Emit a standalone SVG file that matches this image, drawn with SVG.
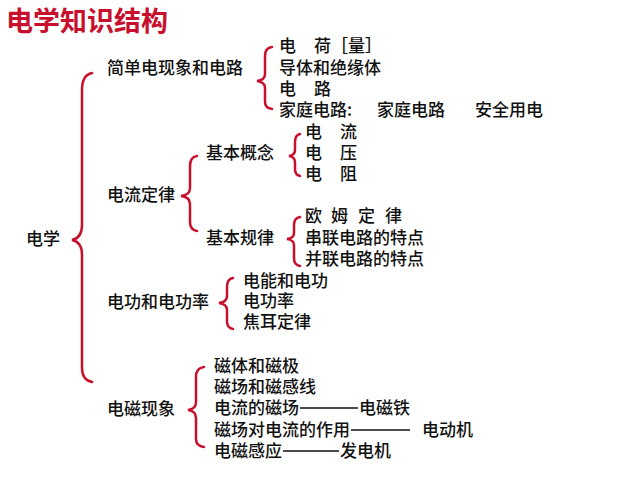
<svg xmlns="http://www.w3.org/2000/svg" width="640" height="480" viewBox="0 0 640 480">
<style>
text{font-family:"Noto Sans CJK SC","Noto Sans CJK JP",sans-serif;font-size:17px;fill:#111;font-weight:500}
.t{font-size:27px;fill:#c8102e;font-weight:700}
.b{fill:none;stroke:#c8102e;stroke-width:2.5;stroke-linecap:round}
.d{stroke:#111;stroke-width:1.5}
</style>
<rect width="640" height="480" fill="#fff"/>
<text class="t" x="6" y="31">电学知识结构</text>
<g id="connectors">
<path class="b" d="M92,73 Q82,75 82,90 L82,225 Q82,238 72,240 Q82,242 82,255 L82,368 Q82,380 92,382"/>
<path class="b" d="M272,47 Q265,48 265,56 L265,74 Q265,80 257,81 Q265,82 265,88 L265,102 Q265,108 272,109"/>
<path class="b" d="M197,156 Q190,157 190,166 L190,188 Q190,195 181,196 Q190,197 190,204 L190,222 Q190,230 197,231"/>
<path class="b" d="M300,134 Q295,135 295,142 L295,150 Q295,155 289,156 Q295,157 295,162 L295,169 Q295,175 300,176"/>
<path class="b" d="M300,217 Q294,218 294,225 L294,233 Q294,238 287,239 Q294,240 294,245 L294,258 Q294,265 300,266"/>
<path class="b" d="M233,278 Q227,279 227,287 L227,296 Q227,302 219,303 Q227,304 227,310 L227,321 Q227,328 233,329"/>
<path class="b" d="M204,367 Q196,368 196,377 L196,402 Q196,409 188,410 Q196,411 196,418 L196,439 Q196,446 204,447"/>
<line class="d" x1="300" y1="408" x2="358" y2="408"/>
<line class="d" x1="351" y1="430" x2="410" y2="430"/>
<line class="d" x1="283" y1="451" x2="339" y2="451"/>
</g>
<g id="root"><text x="26" y="245">电学</text></g>
<g id="n1">
<text x="107" y="74">简单电现象和电路</text>
<text x="279" y="52">电<tspan x="314">荷［量］</tspan></text>
<text x="279" y="74">导体和绝缘体</text>
<text x="279" y="95">电<tspan x="314">路</tspan></text>
<text x="279" y="116">家庭电路:<tspan x="377">家庭电路</tspan><tspan x="475">安全用电</tspan></text>
</g>
<g id="n2">
<text x="107" y="201">电流定律</text>
<text x="206" y="159">基本概念</text>
<text x="305" y="138">电<tspan x="340">流</tspan></text>
<text x="305" y="159">电<tspan x="340">压</tspan></text>
<text x="305" y="180">电<tspan x="340">阻</tspan></text>
<text x="206" y="244">基本规律</text>
<text x="305" y="222">欧<tspan x="331">姆</tspan><tspan x="358">定</tspan><tspan x="385">律</tspan></text>
<text x="305" y="244">串联电路的特点</text>
<text x="305" y="265">并联电路的特点</text>
</g>
<g id="n3">
<text x="107" y="308">电功和电功率</text>
<text x="243" y="287">电能和电功</text>
<text x="243" y="307">电功率</text>
<text x="243" y="328">焦耳定律</text>
</g>
<g id="n4">
<text x="107" y="415">电磁现象</text>
<text x="214" y="372">磁体和磁极</text>
<text x="214" y="393">磁场和磁感线</text>
<text x="214" y="414">电流的磁场</text>
<text x="359" y="414">电磁铁</text>
<text x="214" y="436">磁场对电流的作用</text>
<text x="422" y="436">电动机</text>
<text x="214" y="457">电磁感应</text>
<text x="340" y="457">发电机</text>
</g>
</svg>
